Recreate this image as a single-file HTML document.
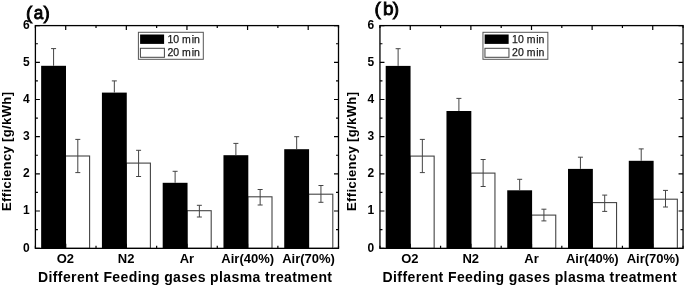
<!DOCTYPE html>
<html><head><meta charset="utf-8"><style>
html,body{margin:0;padding:0;background:#fff;}
body{width:685px;height:286px;overflow:hidden;}
svg{display:block;filter:grayscale(1) blur(0.3px);}
text{font-family:"Liberation Sans",sans-serif;fill:#000;}
.tl{font-size:12px;font-weight:bold;}
.xl{font-size:13px;font-weight:bold;}
.ti{font-size:14px;font-weight:bold;}
.yti{font-size:13px;font-weight:bold;}
.lg{font-size:10.5px;fill:#1a1a1a;stroke:#1a1a1a;stroke-width:0.25px;}
.pl{font-size:19px;stroke:#000;stroke-width:0.9px;}
</style></head><body>
<svg width="685" height="286" viewBox="0 0 685 286">
<rect width="685" height="286" fill="#fff"/>
<rect x="65.5" y="156" width="24.1" height="92.35" fill="#fff" stroke="#444" stroke-width="1.1"/>
<rect x="41.15" y="65.8" width="24.85" height="182.55" fill="#000"/>
<path d="M53.58 65.8V48.6M51.08 48.6H56.08" stroke="#444" stroke-width="1" fill="none"/>
<path d="M77.8 139.4V172.6M75.3 139.4H80.3M75.3 172.6H80.3" stroke="#444" stroke-width="1" fill="none"/>
<rect x="126.27" y="163.1" width="24.13" height="85.25" fill="#fff" stroke="#444" stroke-width="1.1"/>
<rect x="101.92" y="92.6" width="24.85" height="155.75" fill="#000"/>
<path d="M114.34 92.6V80.9M111.84 80.9H116.84" stroke="#444" stroke-width="1" fill="none"/>
<path d="M138.58 150.3V176.5M136.08 150.3H141.08M136.08 176.5H141.08" stroke="#444" stroke-width="1" fill="none"/>
<rect x="187.04" y="210.7" width="24.16" height="37.65" fill="#fff" stroke="#444" stroke-width="1.1"/>
<rect x="162.69" y="182.8" width="24.85" height="65.55" fill="#000"/>
<path d="M175.12 182.8V171.3M172.62 171.3H177.62" stroke="#444" stroke-width="1" fill="none"/>
<path d="M199.37 205.3V217M196.87 205.3H201.87M196.87 217H201.87" stroke="#444" stroke-width="1" fill="none"/>
<rect x="247.81" y="196.8" width="24.19" height="51.55" fill="#fff" stroke="#444" stroke-width="1.1"/>
<rect x="223.46" y="155.2" width="24.85" height="93.15" fill="#000"/>
<path d="M235.88 155.2V143.4M233.38 143.4H238.38" stroke="#444" stroke-width="1" fill="none"/>
<path d="M260.15 189.5V205M257.65 189.5H262.65M257.65 205H262.65" stroke="#444" stroke-width="1" fill="none"/>
<rect x="308.58" y="194.2" width="24.22" height="54.15" fill="#fff" stroke="#444" stroke-width="1.1"/>
<rect x="284.23" y="149.2" width="24.85" height="99.15" fill="#000"/>
<path d="M296.66 149.2V136.7M294.16 136.7H299.16" stroke="#444" stroke-width="1" fill="none"/>
<path d="M320.94 185.5V202.3M318.44 185.5H323.44M318.44 202.3H323.44" stroke="#444" stroke-width="1" fill="none"/>
<path d="M35.4 248.35H39.9M338.5 248.35H334M35.4 229.61H37.9M338.5 229.61H336M35.4 211.02H39.9M338.5 211.02H334M35.4 192.44H37.9M338.5 192.44H336M35.4 173.85H39.9M338.5 173.85H334M35.4 155.26H37.9M338.5 155.26H336M35.4 136.68H39.9M338.5 136.68H334M35.4 118.09H37.9M338.5 118.09H336M35.4 99.5H39.9M338.5 99.5H334M35.4 80.91H37.9M338.5 80.91H336M35.4 62.32H39.9M338.5 62.32H334M35.4 43.74H37.9M338.5 43.74H336M35.4 25.6H39.9M338.5 25.6H334M35.4 25.6V28.1M35.4 248.35V245.85M65.71 25.6V30.1M65.71 248.35V243.85M96.02 25.6V28.1M96.02 248.35V245.85M126.33 25.6V30.1M126.33 248.35V243.85M156.64 25.6V28.1M156.64 248.35V245.85M186.95 25.6V30.1M186.95 248.35V243.85M217.26 25.6V28.1M217.26 248.35V245.85M247.57 25.6V30.1M247.57 248.35V243.85M277.88 25.6V28.1M277.88 248.35V245.85M308.19 25.6V30.1M308.19 248.35V243.85M338.5 25.6V28.1M338.5 248.35V245.85" stroke="#000" stroke-width="1.2" fill="none"/>
<rect x="35.4" y="25.6" width="303.1" height="222.75" fill="none" stroke="#000" stroke-width="1.3"/>
<text x="29.7" y="251.6" class="tl" text-anchor="end">0</text>
<text x="29.7" y="214.42" class="tl" text-anchor="end">1</text>
<text x="29.7" y="177.25" class="tl" text-anchor="end">2</text>
<text x="29.7" y="140.08" class="tl" text-anchor="end">3</text>
<text x="29.7" y="102.9" class="tl" text-anchor="end">4</text>
<text x="29.7" y="65.72" class="tl" text-anchor="end">5</text>
<text x="29.7" y="28.55" class="tl" text-anchor="end">6</text>
<text x="65.38" y="263.1" class="xl" text-anchor="middle">O2</text>
<text x="126.16" y="263.1" class="xl" text-anchor="middle">N2</text>
<text x="186.94" y="263.1" class="xl" text-anchor="middle">Ar</text>
<text x="247.73" y="263.1" class="xl" text-anchor="middle">Air(40%)</text>
<text x="308.51" y="263.1" class="xl" text-anchor="middle">Air(70%)</text>
<text x="38" y="281.5" class="ti" textLength="294" lengthAdjust="spacing">Different Feeding gases plasma treatment</text>
<text transform="translate(11 211) rotate(-90)" class="yti" textLength="119" lengthAdjust="spacing">Efficiency [g/kWh]</text>
<rect x="138.4" y="32.3" width="64.9" height="27" fill="#fff" stroke="#555" stroke-width="1"/>
<rect x="140.1" y="34.5" width="24" height="9.4" fill="#000"/>
<rect x="140.4" y="48.3" width="24" height="9" fill="#fff" stroke="#444" stroke-width="1"/>
<text x="167.5" y="42.9" class="lg">10 m<tspan dx="0.9">in</tspan></text>
<text x="167.5" y="56.2" class="lg">20 m<tspan dx="0.9">in</tspan></text>
<text x="26" y="19" class="pl">(</text>
<text transform="translate(38.4 19) scale(0.9 1)" class="pl" text-anchor="middle">a</text>
<text x="49.8" y="19" class="pl" text-anchor="end">)</text>
<rect x="410.05" y="156.1" width="24.1" height="92.25" fill="#fff" stroke="#444" stroke-width="1.1"/>
<rect x="385.7" y="65.9" width="24.85" height="182.45" fill="#000"/>
<path d="M398.12 65.9V48.7M395.62 48.7H400.62" stroke="#444" stroke-width="1" fill="none"/>
<path d="M422.35 139.4V172.6M419.85 139.4H424.85M419.85 172.6H424.85" stroke="#444" stroke-width="1" fill="none"/>
<rect x="470.82" y="173.1" width="24.13" height="75.25" fill="#fff" stroke="#444" stroke-width="1.1"/>
<rect x="446.47" y="111" width="24.85" height="137.35" fill="#000"/>
<path d="M458.9 111V98.4M456.4 98.4H461.4" stroke="#444" stroke-width="1" fill="none"/>
<path d="M483.13 159.5V186.5M480.63 159.5H485.63M480.63 186.5H485.63" stroke="#444" stroke-width="1" fill="none"/>
<rect x="531.59" y="215.1" width="24.16" height="33.25" fill="#fff" stroke="#444" stroke-width="1.1"/>
<rect x="507.24" y="190.3" width="24.85" height="58.05" fill="#000"/>
<path d="M519.66 190.3V179.3M517.16 179.3H522.16" stroke="#444" stroke-width="1" fill="none"/>
<path d="M543.92 209.2V220.9M541.42 209.2H546.42M541.42 220.9H546.42" stroke="#444" stroke-width="1" fill="none"/>
<rect x="592.36" y="202.6" width="24.19" height="45.75" fill="#fff" stroke="#444" stroke-width="1.1"/>
<rect x="568.01" y="168.9" width="24.85" height="79.45" fill="#000"/>
<path d="M580.43 168.9V157.2M577.93 157.2H582.93" stroke="#444" stroke-width="1" fill="none"/>
<path d="M604.7 195.1V211.4M602.2 195.1H607.2M602.2 211.4H607.2" stroke="#444" stroke-width="1" fill="none"/>
<rect x="653.13" y="199.2" width="24.22" height="49.15" fill="#fff" stroke="#444" stroke-width="1.1"/>
<rect x="628.78" y="160.8" width="24.85" height="87.55" fill="#000"/>
<path d="M641.21 160.8V148.9M638.71 148.9H643.71" stroke="#444" stroke-width="1" fill="none"/>
<path d="M665.49 190.4V207M662.99 190.4H667.99M662.99 207H667.99" stroke="#444" stroke-width="1" fill="none"/>
<path d="M379.95 248.35H384.45M683.05 248.35H678.55M379.95 229.61H382.45M683.05 229.61H680.55M379.95 211.02H384.45M683.05 211.02H678.55M379.95 192.44H382.45M683.05 192.44H680.55M379.95 173.85H384.45M683.05 173.85H678.55M379.95 155.26H382.45M683.05 155.26H680.55M379.95 136.68H384.45M683.05 136.68H678.55M379.95 118.09H382.45M683.05 118.09H680.55M379.95 99.5H384.45M683.05 99.5H678.55M379.95 80.91H382.45M683.05 80.91H680.55M379.95 62.32H384.45M683.05 62.32H678.55M379.95 43.74H382.45M683.05 43.74H680.55M379.95 25.6H384.45M683.05 25.6H678.55M379.95 25.6V28.1M379.95 248.35V245.85M410.26 25.6V30.1M410.26 248.35V243.85M440.57 25.6V28.1M440.57 248.35V245.85M470.88 25.6V30.1M470.88 248.35V243.85M501.19 25.6V28.1M501.19 248.35V245.85M531.5 25.6V30.1M531.5 248.35V243.85M561.81 25.6V28.1M561.81 248.35V245.85M592.12 25.6V30.1M592.12 248.35V243.85M622.43 25.6V28.1M622.43 248.35V245.85M652.74 25.6V30.1M652.74 248.35V243.85M683.05 25.6V28.1M683.05 248.35V245.85" stroke="#000" stroke-width="1.2" fill="none"/>
<rect x="379.95" y="25.6" width="303.1" height="222.75" fill="none" stroke="#000" stroke-width="1.3"/>
<text x="374.25" y="251.6" class="tl" text-anchor="end">0</text>
<text x="374.25" y="214.42" class="tl" text-anchor="end">1</text>
<text x="374.25" y="177.25" class="tl" text-anchor="end">2</text>
<text x="374.25" y="140.08" class="tl" text-anchor="end">3</text>
<text x="374.25" y="102.9" class="tl" text-anchor="end">4</text>
<text x="374.25" y="65.72" class="tl" text-anchor="end">5</text>
<text x="374.25" y="28.55" class="tl" text-anchor="end">6</text>
<text x="409.93" y="263.1" class="xl" text-anchor="middle">O2</text>
<text x="470.71" y="263.1" class="xl" text-anchor="middle">N2</text>
<text x="531.5" y="263.1" class="xl" text-anchor="middle">Ar</text>
<text x="592.28" y="263.1" class="xl" text-anchor="middle">Air(40%)</text>
<text x="653.07" y="263.1" class="xl" text-anchor="middle">Air(70%)</text>
<text x="382.55" y="281.5" class="ti" textLength="294" lengthAdjust="spacing">Different Feeding gases plasma treatment</text>
<text transform="translate(355.55 211) rotate(-90)" class="yti" textLength="119" lengthAdjust="spacing">Efficiency [g/kWh]</text>
<rect x="482.95" y="32.3" width="64.9" height="27" fill="#fff" stroke="#555" stroke-width="1"/>
<rect x="484.65" y="34.5" width="24" height="9.4" fill="#000"/>
<rect x="484.95" y="48.3" width="24" height="9" fill="#fff" stroke="#444" stroke-width="1"/>
<text x="512.05" y="42.9" class="lg">10 m<tspan dx="0.9">in</tspan></text>
<text x="512.05" y="56.2" class="lg">20 m<tspan dx="0.9">in</tspan></text>
<text x="374.5" y="14.9" class="pl">(</text>
<text transform="translate(388.2 14.9) scale(1 1)" class="pl" text-anchor="middle">b</text>
<text x="399" y="14.9" class="pl" text-anchor="end">)</text>
</svg>
</body></html>
